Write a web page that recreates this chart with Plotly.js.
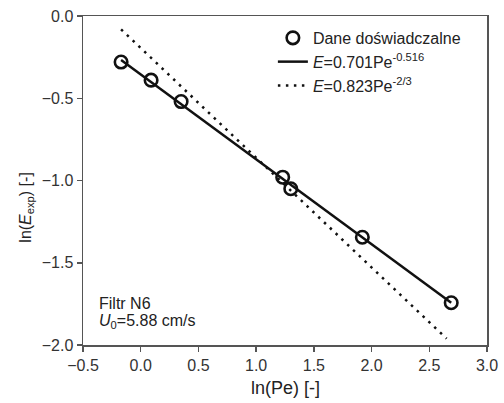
<!DOCTYPE html>
<html><head><meta charset="utf-8">
<script src="https://cdn.plot.ly/plotly-3.0.1.min.js"></script>
<style>html,body{margin:0;padding:0;background:#fff;}#chart{width:504px;height:403px;}</style>
</head><body><div id="chart"></div>
<script>
// experimental data
var lnPe = [-0.17, 0.09, 0.35, 1.23, 1.30, 1.92, 2.69];
var lnE  = [-0.28, -0.39, -0.52, -0.98, -1.05, -1.345, -1.743];
// fit coefficients: E = a * Pe^b
var fitA = [0.701, 0.823];
var fitB = [-0.516, -2/3];
var fitXRange = [[-0.17, 2.69], [-0.17, 2.65]];
var legendNames = ['Dane doświadczalne', '<i>E</i>=0.701Pe<sup>-0.516</sup>', '<i>E</i>=0.823Pe<sup>-2/3</sup>'];
var xTitle = 'ln(Pe) [-]';
var yTitle = 'ln(<i>E</i><sub>exp</sub>) [-]';
var noteLines = ['Filtr N6', '<i>U</i><sub>0</sub>=5.88 cm/s'];

function fitLine(i){
  var xs = fitXRange[i];
  return {x: xs, y: xs.map(function(v){return Math.log(fitA[i]) + fitB[i]*v;})};
}
var f1 = fitLine(0), f2 = fitLine(1);

var FONT = 'Liberation Sans, Arial, sans-serif';
var traces = [
  {x: lnPe, y: lnE, mode: 'markers', name: legendNames[0],
   marker: {symbol: 'circle-open', size: 12.5, color: '#111', line: {width: 2.6, color: '#111'}}},
  {x: f1.x, y: f1.y, mode: 'lines', name: legendNames[1], line: {color: '#111', width: 2.5}},
  {x: f2.x, y: f2.y, mode: 'lines', name: legendNames[2], line: {color: '#111', width: 2.5, dash: '2.5px,5.5px'}}
];

var axCommon = {
  showgrid: false, zeroline: false, showline: true, mirror: true,
  linecolor: '#555', linewidth: 1.5, ticks: 'outside', tickcolor: '#555',
  ticklen: 5, tickwidth: 1.5,
  tickfont: {family: FONT, size: 16, color: '#333'},
  minor: {ticks: 'outside', ticklen: 3, tickwidth: 1.5, tickcolor: '#555', nticks: 2}
};

var layout = {
  width: 504, height: 403,
  margin: {l: 83, r: 17, t: 16, b: 58},
  paper_bgcolor: '#fff', plot_bgcolor: '#fff',
  font: {family: FONT, color: '#222'},
  showlegend: true,
  legend: {x: 0.47, y: 0.985, xanchor: 'left', yanchor: 'top', bgcolor: 'rgba(0,0,0,0)',
           font: {size: 16, color: '#222'}, tracegroupgap: 0, itemwidth: 30},
  xaxis: Object.assign({}, axCommon, {range: [-0.5, 3.0], dtick: 0.5, tick0: 0, tickformat: '.1f'}),
  yaxis: Object.assign({}, axCommon, {range: [-2.0, 0.0], dtick: 0.5, tick0: 0, tickformat: '.1f'}),
  annotations: [
    {xref: 'paper', yref: 'paper', x: 0.5, y: -0.1307, xanchor: 'center', yanchor: 'middle',
     text: xTitle, showarrow: false, font: {size: 18, color: '#222'}},
    {xref: 'paper', yref: 'paper', x: -0.139, y: 0.42, xanchor: 'center', yanchor: 'middle',
     textangle: -90, text: yTitle, showarrow: false, font: {size: 16, color: '#222'}},
    {xref: 'paper', yref: 'paper', x: 0.034, y: 0.125, xanchor: 'left', yanchor: 'middle',
     text: noteLines[0], showarrow: false, font: {size: 16, color: '#222'}},
    {xref: 'paper', yref: 'paper', x: 0.034, y: 0.072, xanchor: 'left', yanchor: 'middle',
     text: noteLines[1], showarrow: false, font: {size: 16, color: '#222'}}
  ]
};
Plotly.newPlot('chart', traces, layout, {displayModeBar: false, staticPlot: true});
</script></body></html>
